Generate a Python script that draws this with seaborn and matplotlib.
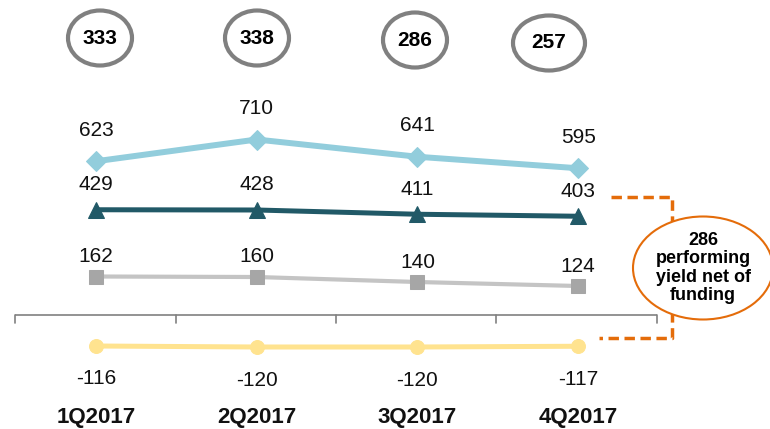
import matplotlib
matplotlib.use("Agg")
import matplotlib.pyplot as plt
from matplotlib.patches import Ellipse
import pandas as pd
import seaborn as sns

quarters = ["1Q2017", "2Q2017", "3Q2017", "4Q2017"]
top_line = [623, 710, 641, 595]
mid_line = [429, 428, 411, 403]
low_line = [162, 160, 140, 124]
funding = [-116, -120, -120, -117]
bubble_values = [333, 338, 286, 257]
callout_text = "286\nperforming\nyield net of\nfunding"

sns.set_theme(style="white")
plt.rcParams["font.family"] = ["Liberation Sans", "DejaVu Sans"]

fig = plt.figure(figsize=(7.7, 4.29), dpi=100)
ax = fig.add_axes([0, 0, 1, 1])

# pixel layout: categories at 96 + 160.7*i, zero at y=317, 0.25 px per unit
px = 160.7
ax.set_xlim(-96 / px, (770 - 96) / px)
ax.set_ylim(-448, 1268)
ax.axis("off")

def pt(x, y):
    return ((x - 96) / px, (317 - y) / 0.25)

# name, values, line colour, marker, marker size, marker colour, line width, label offset (px)
series = [
    ("top", top_line, "#92CDDC", "D", 10, "#92CDDC", 4.3, 31),
    ("mid", mid_line, "#215967", "^", 12, "#215967", 3.6, 25),
    ("low", low_line, "#C4C4C4", "s", 10, "#A6A6A6", 3.0, 20),
    ("fund", funding, "#FFE38F", "o", 10, "#FFE38F", 3.6, -33),
]

for name, vals, col, mk, ms, mcol, lw, off in series:
    df = pd.DataFrame({"x": range(len(quarters)), "y": vals})
    sns.lineplot(data=df, x="x", y="y", ax=ax, color=col, linewidth=lw,
                 marker=mk, markersize=ms, markerfacecolor=mcol,
                 markeredgecolor=mcol, legend=False)
    for i, v in enumerate(vals):
        ax.text(i, v + off / 0.25, str(v), ha="center", va="center",
                fontsize=15, color="#111111")

# axis line with ticks
ax.plot([pt(15, 0)[0], pt(657, 0)[0]], [pt(0, 315)[1]] * 2, color="#808080",
        lw=1.2, solid_capstyle="butt")
for t in range(5):
    xt = pt(15 + t * 160.5, 0)[0]
    ax.plot([xt, xt], [pt(0, 315)[1], pt(0, 323)[1]], color="#808080", lw=1.2)

for i, q in enumerate(quarters):
    ax.text(i, pt(0, 418)[1], q, ha="center", va="center", fontsize=16,
            fontweight="bold", color="#111111")

# top bubbles
bubble_x = [100, 257, 415, 549]
bubble_y = [38, 38, 40, 43]
bubble_w = [64, 64, 64, 72]
for bx, by, bw, v in zip(bubble_x, bubble_y, bubble_w, bubble_values):
    cx, cy = pt(bx, by)
    ax.add_patch(Ellipse((cx, cy), bw / px, 55 / 0.25, fill=False,
                         edgecolor="#808080", lw=3))
    ax.text(cx, cy, str(v), ha="center", va="center", fontsize=15,
            fontweight="bold", color="#000000")

# orange bracket and callout
bx = [pt(611, 197), pt(672, 197), pt(672, 338), pt(599, 338)]
ax.plot([p[0] for p in bx], [p[1] for p in bx], color="#E46C0A", lw=2.5,
        ls=(0, (3, 1.6)))
cx, cy = pt(703, 268)
ax.add_patch(Ellipse((cx, cy), 140 / px, 103 / 0.25, facecolor="white",
                     edgecolor="#E46C0A", lw=1.5, zorder=5))
ax.text(cx, cy, callout_text, ha="center", va="center", fontsize=13,
        fontweight="bold", color="#000000", linespacing=1.1, zorder=6)

fig.savefig("out.png", dpi=100)
